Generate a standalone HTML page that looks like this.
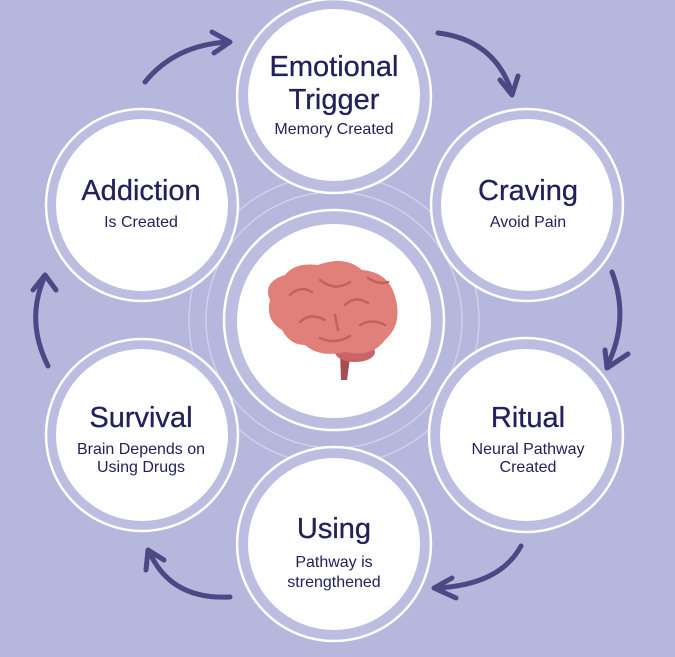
<!DOCTYPE html>
<html><head><style>
body{margin:0;width:675px;height:657px;overflow:hidden;background:#b6b7dc;}
svg{display:block}
text{font-family:"Liberation Sans",sans-serif;fill:#23215c;text-anchor:middle}
.t{font-size:29px;stroke:#23215c;stroke-width:0.3}
.s{font-size:16px}
</style></head><body>
<svg width="675" height="657" viewBox="0 0 675 657">
<rect width="675" height="657" fill="#b6b7dc"/>
<g fill="none" stroke="#d6d7ee" stroke-width="1.5" opacity="0.8">
<circle cx="334" cy="320" r="128"/>
<circle cx="334" cy="320" r="145"/>
</g>
<g fill="#bcbde0" stroke="#ffffff" stroke-width="2.5">
<circle cx="334" cy="96" r="97"/>
<circle cx="527" cy="205" r="96"/>
<circle cx="142" cy="205" r="96"/>
<circle cx="526" cy="435" r="97"/>
<circle cx="142" cy="435" r="96"/>
<circle cx="334" cy="544" r="97"/>
<circle cx="334" cy="320" r="110"/>
</g>
<g fill="#ffffff">
<circle cx="334" cy="95" r="86"/>
<circle cx="527" cy="205" r="86"/>
<circle cx="142" cy="205" r="86"/>
<circle cx="526" cy="435" r="86"/>
<circle cx="142" cy="435" r="86"/>
<circle cx="334" cy="544" r="86"/>
<circle cx="334" cy="321" r="97"/>
</g>
<g fill="none" stroke="#4b4884" stroke-width="5" stroke-linecap="round" stroke-linejoin="round">
<path d="M145 82 Q175 45 228 42"/><path d="M212 32 L230 42 L214 53"/>
<path d="M438 33 Q495 40 512 93"/><path d="M500 80 L512 95 L518 76"/>
<path d="M612 272 Q630 320 607 366"/><path d="M605 350 L607 368 L628 354"/>
<path d="M521 546 Q500 585 436 588"/><path d="M452 578 L434 588 L456 598"/>
<path d="M230 597 Q170 600 149 551"/><path d="M146 570 L148 550 L164 560"/>
<path d="M48 366 Q25 320 45 276"/><path d="M33 290 L45 275 L56 290"/>
</g>
<text class="t" x="334" y="76">Emotional</text>
<text class="t" x="334" y="109">Trigger</text>
<text class="s" x="334" y="134">Memory Created</text>
<text class="t" x="528" y="200">Craving</text>
<text class="s" x="528" y="227">Avoid Pain</text>
<text class="t" x="141" y="200">Addiction</text>
<text class="s" x="141" y="227">Is Created</text>
<text class="t" x="528" y="427">Ritual</text>
<text class="s" x="528" y="454">Neural Pathway</text>
<text class="s" x="528" y="472">Created</text>
<text class="t" x="141" y="427">Survival</text>
<text class="s" x="141" y="454">Brain Depends on</text>
<text class="s" x="141" y="472">Using Drugs</text>
<text class="t" x="334" y="538">Using</text>
<text class="s" x="334" y="567">Pathway is</text>
<text class="s" x="334" y="587">strengthened</text>
<g>
<path d="M340 352 L350 358 L347 380 L341 380 Z" fill="#a24e52"/>
<ellipse cx="355" cy="352" rx="20" ry="10" fill="#c96566"/>
<path d="M270 300 Q262 282 285 275 Q295 262 318 265 Q345 255 362 270 Q390 272 396 300 Q402 325 385 340 Q372 358 345 352 Q320 358 305 345 Q290 345 282 330 Q265 320 270 300 Z" fill="#e08078"/>
<g fill="none" stroke="#c4605f" stroke-width="2.5" stroke-linecap="round">
<path d="M290 295 Q300 285 312 292"/><path d="M300 322 Q310 312 325 320"/>
<path d="M320 280 Q335 292 350 282"/><path d="M345 305 Q355 295 368 303"/>
<path d="M360 325 Q372 318 385 325"/><path d="M320 338 Q335 345 350 336"/>
<path d="M368 278 Q378 285 388 282"/><path d="M335 315 L338 330"/>
</g>
</g>
</svg>
</body></html>
